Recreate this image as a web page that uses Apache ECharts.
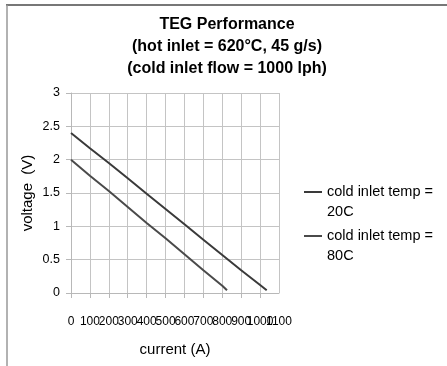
<!DOCTYPE html>
<html><head><meta charset="utf-8">
<script src="https://cdn.jsdelivr.net/npm/echarts@6/dist/echarts.min.js"></script>
<style>html,body{margin:0;padding:0;background:#fff}#c{width:447px;height:366px}</style>
</head><body><div id="c"></div>
<script>
var seriesNames = ['cold inlet temp =\n20C', 'cold inlet temp =\n80C'];
var current20 = [0, 100, 200, 300, 400, 500, 600, 700, 800, 900, 1000, 1035];
var voltage20 = [2.40, 2.17, 1.95, 1.72, 1.49, 1.26, 1.03, 0.80, 0.57, 0.34, 0.12, 0.04];
var current80 = [0, 100, 200, 300, 400, 500, 600, 700, 800, 825];
var voltage80 = [2.00, 1.76, 1.53, 1.29, 1.05, 0.82, 0.58, 0.34, 0.11, 0.04];
var xTicks = [0, 100, 200, 300, 400, 500, 600, 700, 800, 900, 1000, 1100];
var yTicks = [0, 0.5, 1, 1.5, 2, 2.5, 3];

function pairs(xs, ys){ return xs.map(function(x,i){ return [x, ys[i]]; }); }
var font = 'Liberation Sans, Arial, sans-serif';
var xMin = xTicks[0], xMax = xTicks[xTicks.length-1];
var chart = echarts.init(document.getElementById('c'));
chart.setOption({
  animation: false,
  textStyle: {fontFamily: font},
  title: {
    text: 'TEG Performance\n(hot inlet = 620°C, 45 g/s)\n(cold inlet flow = 1000 lph)',
    left: 222, top: 9, textAlign: 'center',
    textStyle: {fontFamily: font, fontSize: 16, fontWeight: 'bold', color: '#000', lineHeight: 22}
  },
  graphic: [
    {type: 'line', shape: {x1: 6, y1: 5, x2: 447, y2: 5}, style: {stroke: '#777', lineWidth: 2}},
    {type: 'line', shape: {x1: 7, y1: 5, x2: 7, y2: 366}, style: {stroke: '#999', lineWidth: 1.5}}
  ],
  legend: {
    orient: 'vertical', left: 299, top: 157, itemGap: -16,
    icon: 'rect', itemWidth: 18, itemHeight: 2,
    textStyle: {fontFamily: font, fontSize: 14.5, color: '#000', lineHeight: 20},
    formatter: function(name){ return '\n' + name; },
    data: seriesNames
  },
  grid: {left: 71, top: 93, width: 208, height: 200},
  xAxis: [{
    type: 'value', min: xMin, max: xMax, interval: 100,
    name: 'current (A)', nameLocation: 'middle', nameGap: 49,
    nameTextStyle: {fontFamily: font, fontSize: 15, color: '#000'},
    axisLine: {show: true, lineStyle: {color: '#b8b8b8'}},
    axisTick: {show: true, length: 5, lineStyle: {color: '#b8b8b8'}},
    axisLabel: {fontSize: 12, color: '#000', margin: 23, showMaxLabel: false,
      formatter: function(v){ return String(v); }},
    splitLine: {show: true, lineStyle: {color: '#c4c4c4', width: 1}}
  }, {
    type: 'value', min: xMin, max: xMax, interval: xMax - xMin, position: 'bottom',
    axisLine: {show: false}, axisTick: {show: false}, splitLine: {show: false},
    axisLabel: {fontSize: 12, color: '#000', margin: 23, showMinLabel: false,
      formatter: function(v){ return v === xMax ? String(v) : ''; }}
  }],
  yAxis: {
    type: 'value', min: yTicks[0], max: yTicks[yTicks.length-1], interval: 0.5,
    name: 'voltage  (V)', nameLocation: 'middle', nameGap: 36,
    nameTextStyle: {fontFamily: font, fontSize: 15, color: '#000'},
    axisLine: {show: true, lineStyle: {color: '#b8b8b8'}},
    axisTick: {show: true, length: 5, lineStyle: {color: '#b8b8b8'}},
    axisLabel: {fontSize: 12.5, color: '#000', margin: 11},
    splitLine: {show: true, lineStyle: {color: '#c4c4c4', width: 1}}
  },
  series: [
    {name: seriesNames[0], type: 'line', data: pairs(current20, voltage20), showSymbol: false,
     lineStyle: {color: '#3a3a3a', width: 2}, itemStyle: {color: '#3a3a3a'}},
    {name: seriesNames[1], type: 'line', data: pairs(current80, voltage80), showSymbol: false,
     lineStyle: {color: '#4a4a4a', width: 2}, itemStyle: {color: '#4a4a4a'}}
  ]
});
</script></body></html>
